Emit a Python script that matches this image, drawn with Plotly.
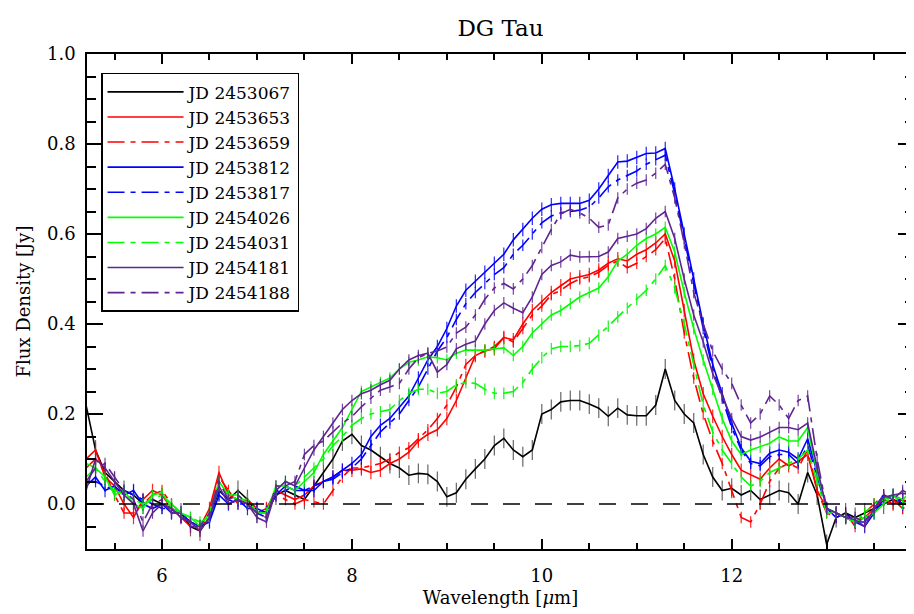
import plotly.graph_objects as go

# Wavelength grid (micron)
wavelength = [5.2, 5.3, 5.4, 5.5, 5.6, 5.7, 5.8, 5.9, 6.0, 6.1,
              6.2, 6.3, 6.4, 6.5, 6.6, 6.7, 6.8, 6.9, 7.0, 7.1,
              7.2, 7.3, 7.4, 7.5, 7.6, 7.7, 7.8, 7.9, 8.0, 8.1,
              8.2, 8.3, 8.4, 8.5, 8.6, 8.7, 8.8, 8.9, 9.0, 9.1,
              9.2, 9.3, 9.4, 9.5, 9.6, 9.7, 9.8, 9.9, 10.0, 10.1,
              10.2, 10.3, 10.4, 10.5, 10.6, 10.7, 10.8, 10.9, 11.0, 11.1,
              11.2, 11.3, 11.4, 11.5, 11.6, 11.7, 11.8, 11.9, 12.0, 12.1,
              12.2, 12.3, 12.4, 12.5, 12.6, 12.7, 12.8, 12.9, 13.0, 13.1,
              13.2, 13.3, 13.4, 13.5, 13.6, 13.7, 13.8, 13.9]

jd_2453067 = [0.22, 0.12, 0.07, 0.05, 0.03, 0.02, 0.00, 0.01, 0.00, -0.01,
              -0.02, -0.05, -0.06, -0.03, 0.03, 0.01, 0.03, 0.01, -0.02, -0.02,
              0.02, 0.03, 0.02, 0.01, 0.04, 0.07, 0.10, 0.14, 0.155, 0.13,
              0.12, 0.105, 0.09, 0.08, 0.064, 0.068, 0.066, 0.05, 0.016, 0.025,
              0.055, 0.078, 0.10, 0.13, 0.146, 0.12, 0.105, 0.12, 0.20, 0.21,
              0.227, 0.23, 0.23, 0.222, 0.213, 0.195, 0.213, 0.198, 0.196, 0.196,
              0.22, 0.30, 0.23, 0.20, 0.18, 0.11, 0.06, 0.03, 0.035, 0.02,
              0.03, 0.01, 0.02, 0.03, 0.025, 0.00, 0.07, 0.02, -0.09, -0.03,
              -0.02, -0.03, -0.02, -0.01, 0.00, 0.01, 0.00, 0.00]

jd_2453653 = [0.10, 0.12, 0.06, 0.04, 0.00, -0.03, 0.01, 0.03, 0.02, -0.01,
              -0.03, -0.05, -0.05, -0.01, 0.07, 0.02, 0.01, 0.00, -0.02, -0.01,
              0.03, 0.02, 0.01, 0.02, 0.04, 0.05, 0.06, 0.075, 0.075, 0.078,
              0.07, 0.075, 0.09, 0.10, 0.115, 0.14, 0.155, 0.165, 0.19, 0.23,
              0.28, 0.33, 0.34, 0.345, 0.37, 0.365, 0.40, 0.43, 0.45, 0.47,
              0.485, 0.50, 0.505, 0.51, 0.52, 0.535, 0.545, 0.54, 0.555, 0.565,
              0.58, 0.60, 0.54, 0.43, 0.32, 0.245, 0.195, 0.15, 0.11, 0.075,
              0.065, 0.055, 0.08, 0.10, 0.085, 0.095, 0.11, 0.03, -0.01, -0.02,
              -0.03, -0.04, -0.03, -0.01, 0.01, 0.00, 0.01, 0.00]

jd_2453659 = [0.08, 0.10, 0.07, 0.02, -0.02, -0.02, 0.00, 0.02, 0.03, 0.00,
              -0.02, -0.04, -0.06, -0.02, 0.06, 0.03, 0.00, 0.01, -0.01, -0.02,
              0.02, 0.01, 0.00, 0.01, 0.005, 0.00, 0.03, 0.06, 0.08, 0.08,
              0.085, 0.09, 0.10, 0.115, 0.125, 0.145, 0.165, 0.19, 0.22, 0.26,
              0.31, 0.33, 0.34, 0.35, 0.37, 0.36, 0.39, 0.42, 0.44, 0.465,
              0.475, 0.49, 0.50, 0.505, 0.515, 0.53, 0.54, 0.525, 0.535, 0.55,
              0.565, 0.59, 0.50, 0.38, 0.28, 0.20, 0.14, 0.09, 0.03, -0.03,
              -0.04, 0.00, 0.05, 0.08, 0.09, 0.08, 0.12, 0.03, -0.02, -0.03,
              -0.02, -0.05, -0.02, 0.00, 0.02, 0.01, -0.01, 0.00]

jd_2453812 = [0.04, 0.06, 0.03, 0.04, 0.02, 0.03, 0.00, -0.01, 0.00, -0.02,
              -0.02, -0.04, -0.05, -0.04, 0.02, 0.00, 0.01, -0.01, -0.01, -0.02,
              0.02, 0.04, 0.03, 0.03, 0.03, 0.05, 0.06, 0.075, 0.09, 0.11,
              0.15, 0.175, 0.19, 0.215, 0.24, 0.28, 0.32, 0.35, 0.39, 0.44,
              0.475, 0.495, 0.515, 0.535, 0.555, 0.587, 0.61, 0.635, 0.655, 0.665,
              0.668, 0.668, 0.668, 0.675, 0.70, 0.73, 0.76, 0.762, 0.77, 0.779,
              0.78, 0.79, 0.70, 0.60, 0.50, 0.40, 0.31, 0.245, 0.18, 0.125,
              0.095, 0.09, 0.113, 0.12, 0.115, 0.10, 0.145, 0.07, -0.01, -0.02,
              -0.03, -0.04, -0.05, -0.02, 0.01, 0.02, 0.00, 0.02]

jd_2453817 = [0.05, 0.05, 0.04, 0.03, 0.03, 0.02, 0.01, 0.00, -0.01, -0.01,
              -0.03, -0.04, -0.05, -0.03, 0.03, 0.01, 0.00, 0.00, -0.02, -0.03,
              0.03, 0.03, 0.04, 0.03, 0.04, 0.05, 0.055, 0.07, 0.08, 0.10,
              0.13, 0.16, 0.18, 0.20, 0.23, 0.26, 0.30, 0.34, 0.37, 0.41,
              0.445, 0.47, 0.49, 0.51, 0.525, 0.555, 0.575, 0.60, 0.625, 0.64,
              0.647, 0.65, 0.653, 0.66, 0.68, 0.705, 0.72, 0.73, 0.74, 0.755,
              0.765, 0.775, 0.69, 0.59, 0.49, 0.39, 0.30, 0.235, 0.17, 0.12,
              0.09, 0.085, 0.105, 0.11, 0.11, 0.09, 0.13, 0.06, -0.01, -0.03,
              -0.02, -0.04, -0.04, -0.01, 0.02, 0.01, 0.01, 0.00]

jd_2454026 = [0.09, 0.08, 0.06, 0.02, 0.03, 0.00, -0.01, 0.02, 0.025, -0.01,
              -0.02, -0.03, -0.05, -0.02, 0.05, 0.02, 0.02, 0.00, -0.02, -0.02,
              0.04, 0.04, 0.03, 0.05, 0.07, 0.11, 0.14, 0.17, 0.21, 0.25,
              0.26, 0.27, 0.28, 0.30, 0.315, 0.32, 0.327, 0.325, 0.32, 0.335,
              0.342, 0.342, 0.342, 0.345, 0.347, 0.33, 0.35, 0.38, 0.40, 0.42,
              0.43, 0.445, 0.46, 0.47, 0.48, 0.505, 0.54, 0.555, 0.575, 0.59,
              0.60, 0.615, 0.56, 0.47, 0.39, 0.32, 0.255, 0.19, 0.14, 0.11,
              0.12, 0.127, 0.135, 0.149, 0.14, 0.14, 0.17, 0.07, -0.01, -0.02,
              -0.03, -0.04, -0.03, -0.02, 0.00, 0.02, 0.01, 0.03]

jd_2454031 = [0.06, 0.08, 0.05, 0.03, 0.02, 0.01, 0.00, 0.01, 0.02, 0.00,
              -0.02, -0.03, -0.04, -0.03, 0.04, 0.02, 0.01, 0.01, -0.02, -0.02,
              0.03, 0.05, 0.04, 0.06, 0.08, 0.10, 0.13, 0.15, 0.175, 0.19,
              0.20, 0.205, 0.21, 0.23, 0.246, 0.255, 0.255, 0.246, 0.25, 0.265,
              0.27, 0.268, 0.255, 0.246, 0.246, 0.25, 0.27, 0.30, 0.325, 0.345,
              0.35, 0.35, 0.352, 0.357, 0.375, 0.395, 0.416, 0.435, 0.455, 0.475,
              0.50, 0.53, 0.48, 0.40, 0.31, 0.22, 0.16, 0.12, 0.09, 0.06,
              0.04, 0.05, 0.07, 0.08, 0.09, 0.10, 0.12, 0.05, -0.02, -0.02,
              -0.03, -0.04, -0.02, 0.00, 0.01, 0.02, 0.00, 0.01]

jd_2454181 = [0.03, 0.10, 0.08, 0.05, 0.02, 0.00, -0.06, -0.02, 0.00, -0.01,
              -0.03, -0.04, -0.06, -0.03, 0.04, 0.00, 0.01, 0.00, -0.03, -0.04,
              0.03, 0.05, 0.04, 0.08, 0.12, 0.15, 0.18, 0.21, 0.23, 0.245,
              0.253, 0.265, 0.275, 0.30, 0.32, 0.33, 0.335, 0.293, 0.31, 0.345,
              0.355, 0.362, 0.40, 0.43, 0.447, 0.435, 0.425, 0.46, 0.51, 0.53,
              0.538, 0.553, 0.549, 0.55, 0.55, 0.56, 0.59, 0.595, 0.60, 0.612,
              0.635, 0.65, 0.59, 0.50, 0.42, 0.36, 0.29, 0.24, 0.19, 0.15,
              0.142, 0.149, 0.16, 0.17, 0.17, 0.165, 0.18, 0.08, -0.01, -0.02,
              -0.03, -0.035, -0.05, -0.01, 0.015, 0.02, 0.024, 0.02]

jd_2454188 = [0.05, 0.08, 0.09, 0.06, 0.03, 0.01, -0.04, 0.00, 0.01, -0.02,
              -0.02, -0.05, -0.05, -0.02, 0.05, 0.01, 0.02, 0.00, -0.02, -0.03,
              0.04, 0.04, 0.05, 0.11, 0.13, 0.14, 0.16, 0.18, 0.194, 0.216,
              0.235, 0.253, 0.26, 0.268, 0.30, 0.325, 0.335, 0.34, 0.349, 0.38,
              0.393, 0.42, 0.455, 0.48, 0.49, 0.478, 0.50, 0.53, 0.57, 0.61,
              0.645, 0.655, 0.647, 0.635, 0.615, 0.62, 0.68, 0.70, 0.713, 0.72,
              0.735, 0.755, 0.68, 0.58, 0.47, 0.40, 0.34, 0.30, 0.268, 0.22,
              0.18, 0.20, 0.24, 0.22, 0.19, 0.23, 0.24, 0.10, -0.01, -0.02,
              -0.03, -0.03, -0.04, -0.01, 0.02, 0.01, 0.03, 0.02]

labels = ["JD 2453067", "JD 2453653", "JD 2453659", "JD 2453812", "JD 2453817",
          "JD 2454026", "JD 2454031", "JD 2454181", "JD 2454188"]
series = [jd_2453067, jd_2453653, jd_2453659, jd_2453812, jd_2453817,
          jd_2454026, jd_2454031, jd_2454181, jd_2454188]
errors = [0.022, 0.015, 0.013, 0.015, 0.013, 0.013, 0.013, 0.013, 0.013]

colors = ["#000000", "#ff0000", "#ff0000", "#0000ff", "#0000ff",
          "#00ff00", "#00ff00", "#5e2590", "#5e2590"]
err_colors = ["rgba(0,0,0,0.6)", "rgba(255,0,0,0.85)", "rgba(255,0,0,0.85)",
              "rgba(0,0,255,0.85)", "rgba(0,0,255,0.85)", "rgba(0,230,0,0.85)",
              "rgba(0,230,0,0.85)", "rgba(94,37,144,0.85)", "rgba(94,37,144,0.85)"]
DASHDOT = "17px,6px,5px,6px"
dashes = ["solid", "solid", DASHDOT, "solid", DASHDOT, "solid", DASHDOT, "solid", DASHDOT]

FONT = "DejaVu Serif"

fig = go.Figure()
for lab, ys, err, col, ecol, dsh in zip(labels, series, errors, colors, err_colors, dashes):
    fig.add_trace(go.Scatter(
        x=wavelength, y=ys, mode="lines", name=lab,
        line=dict(color=col, width=1.6, dash=dsh),
        error_y=dict(type="constant", value=err, color=ecol, thickness=1.2, width=0),
    ))

# zero reference line
fig.add_shape(type="line", xref="paper", yref="y", x0=0, x1=1, y0=0, y1=0,
              line=dict(color="black", width=1.5, dash="17px,15px"), layer="above")

# (page has an 8px body margin, so the figure is sized/offset to compensate)
fig.update_layout(
    width=906, height=606,
    margin=dict(l=79, r=0, t=46, b=65, autoexpand=False),
    paper_bgcolor="white", plot_bgcolor="white",
    font=dict(family=FONT, color="black", size=18),
    title=dict(text="DG Tau", x=0.5, xref="paper", y=0.967, yref="container",
               xanchor="center", yanchor="middle", font=dict(size=23, family=FONT),
               automargin=False),
    showlegend=True,
    legend=dict(x=0.017, y=0.962, xanchor="left", yanchor="top",
                bordercolor="black", borderwidth=1.5, bgcolor="white",
                font=dict(size=17, family=FONT), itemwidth=76,
                tracegroupgap=0),
    xaxis=dict(range=[5.21, 13.92], showgrid=False, zeroline=False, automargin=False,
               showline=True, linecolor="black", linewidth=1.5, mirror="ticks",
               ticks="inside", tick0=0, dtick=2, ticklen=10, tickwidth=1.5, tickcolor="black",
               minor=dict(ticks="inside", dtick=0.5, tick0=0, ticklen=6, tickwidth=1.5, tickcolor="black"),
               ticklabelstandoff=10,
               title=dict(text="Wavelength [<i>μ</i>m]", standoff=6, font=dict(size=18))),
    yaxis=dict(range=[-0.1, 1.0], showgrid=False, zeroline=False, automargin=False,
               showline=True, linecolor="black", linewidth=1.5, mirror="ticks",
               ticks="inside", tick0=0, dtick=0.2, ticklen=16, tickwidth=1.5, tickcolor="black",
               minor=dict(ticks="inside", dtick=0.05, tick0=0, ticklen=9, tickwidth=1.5, tickcolor="black"),
               tickformat=".1f", ticklabelstandoff=6,
               title=dict(text="Flux Density [Jy]", standoff=12, font=dict(size=18))),
)

fig.write_html("out.html")
